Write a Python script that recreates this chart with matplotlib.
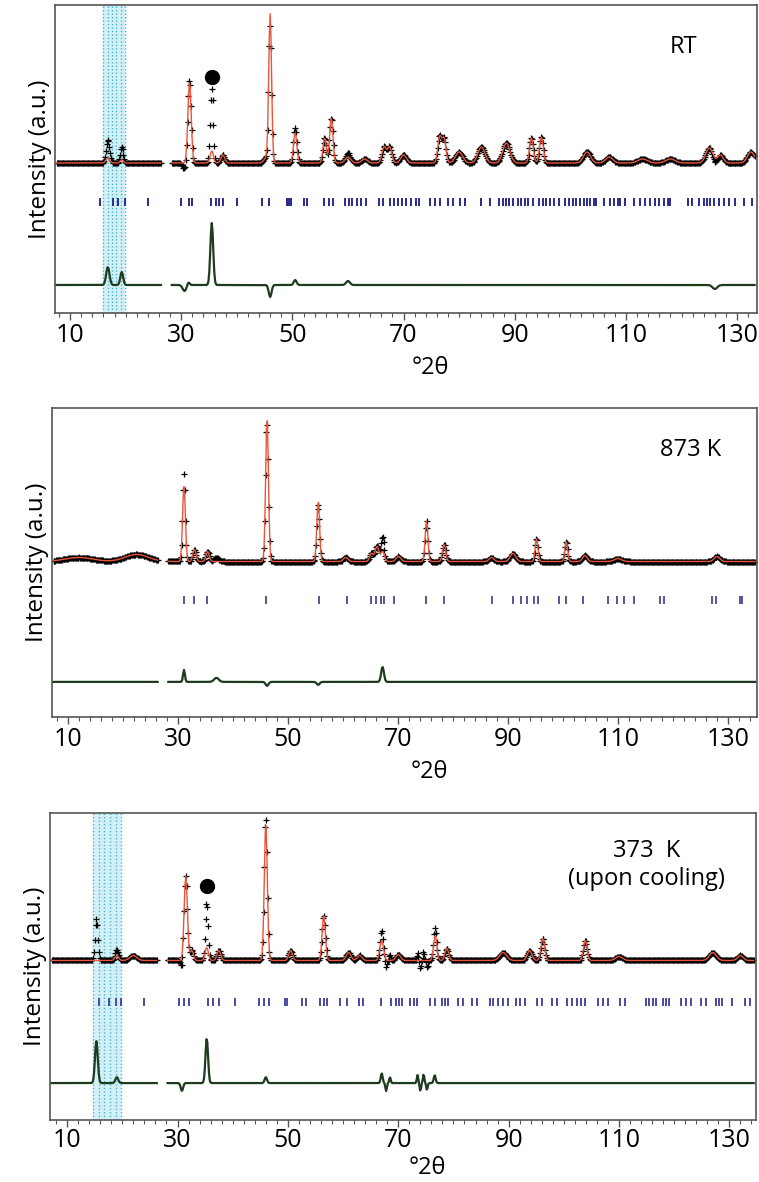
import numpy as np
import matplotlib
matplotlib.use("Agg")
import matplotlib.pyplot as plt
from matplotlib.ticker import MultipleLocator, FixedLocator

plt.rcParams['font.family'] = ['Open Sans', 'DejaVu Sans']

# ---- panel 1 : RT
rt_base = 150
rt_calc_pos = [16.8, 19.3, 31.5, 35.5, 37.5, 45.3, 46.0, 50.5, 55.8, 57.0, 60.0, 63.0,
               66.5, 67.5, 70.0, 76.5, 77.3, 80.0, 84.0, 88.5, 93.0, 94.8, 103.0, 107.0,
               113.0, 118.0, 125.0, 127.0, 132.5]
rt_calc_h = [5, 3, 81, 12, 8, 5, 148, 30, 25, 45, 6, 4,
             16, 16, 8, 26, 24, 11, 16, 20, 25, 26, 11, 6,
             4, 4, 15, 8, 11]
rt_calc_w = [0.8, 0.7, 0.7, 0.7, 0.8, 1.0, 0.6, 0.7, 0.7, 0.7, 1.2, 1.2,
             0.9, 0.9, 1.2, 0.8, 0.8, 1.5, 1.5, 1.5, 0.8, 0.8, 1.5, 1.5,
             2.0, 2.0, 1.5, 1.2, 1.5]
rt_mis_pos = [16.8, 19.3, 30.6, 31.3, 35.5, 46.0, 50.5, 60.0, 126.0]
rt_mis_h = [18, 13, -6, 3, 62, -12, 5, 4, -4]
rt_mis_w = [0.7, 0.6, 0.8, 0.5, 0.6, 0.6, 0.6, 0.8, 1.0]
rt_ticks = [15.4, 17.7, 18.6, 19.8, 24.0, 29.9, 31.4, 32.0, 35.3, 36.2, 36.8, 37.5, 40.1,
            44.6, 45.8, 49.1, 49.4, 49.8, 52.1, 52.7, 55.6, 56.5, 57.3, 59.5, 60.2, 60.8,
            61.6, 62.4, 63.2, 65.5, 66.3, 67.6, 68.2, 69.0, 69.8, 70.5, 71.3, 72.2, 72.7,
            74.8, 75.7, 76.6, 78.0, 78.9, 80.1, 81.0, 84.0, 85.5, 87.2, 87.8, 88.4, 89.0,
            89.6, 90.5, 91.1, 91.8, 92.3, 93.2, 94.4, 95.0, 95.6, 96.3, 97.0, 97.9, 99.1,
            99.8, 100.5, 101.1, 101.7, 102.4, 103.0, 103.6, 104.3, 104.7, 106.0, 107.2,
            107.8, 108.5, 109.0, 109.9, 111.4, 112.6, 113.5, 114.4, 115.2, 116.0, 116.8,
            117.5, 118.0, 121.1, 121.9, 123.1, 124.0, 124.6, 125.2, 125.8, 126.7, 127.6,
            128.5, 129.7, 131.2, 132.7]

# ---- panel 2 : 873 K
ht_base = 155
ht_calc_pos = [12.0, 22.5, 31.1, 33.0, 35.4, 46.2, 55.5, 60.5, 65.2, 66.2, 67.2, 70.1,
               75.2, 78.4, 87.0, 90.9, 95.2, 100.6, 104.0, 110.0, 128.0]
ht_calc_h = [4, 7, 75, 12, 10, 143, 60, 4, 8, 15, 10, 5,
             40, 17, 4, 8, 23, 20, 6, 3, 5]
ht_calc_w = [6.0, 5.0, 0.6, 0.7, 0.7, 0.6, 0.6, 1.0, 0.8, 0.8, 0.8, 1.0,
             0.6, 0.7, 1.0, 1.2, 0.6, 0.6, 1.0, 1.5, 1.2]
ht_mis_pos = [31.1, 37.0, 46.2, 55.5, 67.2]
ht_mis_h = [12, 4, -4, -3, 15]
ht_mis_w = [0.4, 1.0, 0.6, 0.6, 0.6]
ht_ticks = [31.1, 32.9, 35.2, 46.1, 55.7, 60.7, 65.1, 66.0, 67.0, 67.5, 69.3, 75.1, 78.3,
            87.1, 90.9, 92.4, 93.5, 94.8, 95.5, 99.3, 100.5, 103.7, 108.1, 109.9, 111.1,
            112.9, 117.7, 118.3, 127.1, 127.9, 132.2, 132.6]

# ---- panel 3 : 373 K upon cooling
cl_base = 160
cl_calc_pos = [19.0, 22.0, 31.5, 32.6, 35.3, 37.5, 46.0, 50.5, 56.5, 61.0, 63.0, 67.0,
               70.0, 76.7, 78.8, 89.0, 93.8, 96.2, 103.9, 110.0, 127.0, 132.0]
cl_calc_h = [5, 5, 85, 10, 13, 10, 137, 10, 45, 8, 5, 20,
             6, 25, 12, 8, 10, 22, 20, 4, 8, 5]
cl_calc_w = [0.8, 1.5, 0.7, 0.7, 0.7, 0.8, 0.65, 0.8, 0.7, 1.0, 1.0, 0.8,
             1.0, 0.7, 0.8, 1.5, 1.0, 0.8, 0.8, 1.5, 1.5, 1.2]
cl_mis_pos = [15.3, 19.0, 30.8, 35.3, 46.0, 67.0, 67.8, 68.5, 73.5, 74.0, 74.6, 75.2, 76.6]
cl_mis_h = [42, 6, -8, 45, 6, 10, -8, 6, 8, -8, 9, -7, 8]
cl_mis_w = [0.6, 0.6, 0.5, 0.55, 0.5, 0.4, 0.3, 0.3, 0.3, 0.3, 0.3, 0.3, 0.4]
cl_ticks = [15.7, 17.5, 18.8, 19.7, 24.0, 30.2, 31.1, 32.0, 35.6, 36.5, 37.5, 40.5, 44.7,
            45.6, 46.5, 49.5, 49.9, 52.5, 53.3, 55.9, 56.5, 57.1, 59.5, 60.7, 62.8, 63.7,
            66.8, 68.6, 69.5, 70.1, 70.7, 72.2, 72.8, 73.4, 75.8, 76.7, 77.9, 78.5, 79.1,
            80.9, 81.8, 83.3, 84.2, 86.6, 87.2, 88.1, 89.0, 89.9, 91.4, 92.0, 92.9, 95.1,
            96.0, 97.8, 98.7, 100.5, 101.4, 102.3, 103.2, 103.8, 106.2, 107.1, 108.0,
            110.1, 111.0, 114.9, 115.5, 116.1, 116.7, 117.9, 118.5, 119.1, 121.2, 122.1,
            123.0, 124.8, 125.7, 127.5, 128.1, 128.7, 130.5, 132.9, 133.8]


def peaks(x, pos, h, w):
    y = np.zeros_like(x)
    for p, a, fw in zip(pos, h, w):
        y += a * np.exp(-4 * np.log(2) * (x - p) ** 2 / fw ** 2)
    return y


def panel(ax, xlim, base, cpos, ch, cw, mpos, mh, mw, ticks, tick_y, diff_y,
          tick_col, label, label_xy, band=None, dot=None, xlab_y=-0.14, pad=2):
    x = np.arange(xlim[0] + 0.3, xlim[1] - 0.3, 0.15)
    gap = (x > 26.4) & (x < 28.2)
    calc = base + peaks(x, cpos, ch, cw)
    mis = peaks(x, mpos, mh, mw)
    obs = calc + mis
    calc[gap] = np.nan
    obs[gap] = np.nan
    diff = diff_y + mis
    diff[gap] = np.nan

    if band:
        ax.axvspan(band[0], band[1], facecolor='#d3f0f6', edgecolor='none', zorder=0)
        ax.vlines(np.linspace(band[0], band[1], 6), 0, 308, color='#45b6cf',
                  lw=1.0, ls=(0, (1, 1.5)), zorder=0.5)
    ax.plot(x, obs, '+', color='black', ms=5, mew=0.9, zorder=2)
    ax.plot(x, calc, color='#e8553a', lw=1.0, zorder=3)
    ax.plot(x, diff, color='#1e3b1e', lw=1.6, zorder=3)
    ax.vlines(ticks, tick_y - 4, tick_y + 4, color=tick_col, lw=1.4, zorder=3)
    if dot:
        ax.plot([dot[0]], [dot[1]], 'o', color='black', ms=10, zorder=4)

    ax.set_xlim(*xlim)
    ax.set_ylim(0, 308)
    ax.set_yticks([])
    ax.xaxis.set_major_locator(FixedLocator(np.arange(10, 140, 20)))
    ax.xaxis.set_minor_locator(MultipleLocator(2))
    ax.tick_params(axis='x', which='major', length=5, width=1, color='#555555',
                   labelsize=18, pad=pad, direction='out')
    ax.tick_params(axis='x', which='minor', length=3, width=0.8, color='#555555',
                   direction='out')
    for s in ax.spines.values():
        s.set_color('#555555')
        s.set_linewidth(1.2)
    ax.set_ylabel('Intensity (a.u.)', fontsize=17.5, labelpad=2)
    ax.set_xlabel('°2θ', fontsize=17)
    ax.xaxis.set_label_coords(0.535, xlab_y)
    ax.text(label_xy[0], label_xy[1], label, transform=ax.transAxes, fontsize=17,
            ha='center', va='center', linespacing=1.2)


fig = plt.figure(figsize=(7.59, 11.82), dpi=100)
ax1 = fig.add_axes([0.0725, 0.7352, 0.9250, 0.2606])
ax2 = fig.add_axes([0.0685, 0.3934, 0.9290, 0.2614])
ax3 = fig.add_axes([0.0659, 0.0525, 0.9300, 0.2597])

panel(ax1, (7.3, 133.6), rt_base, rt_calc_pos, rt_calc_h, rt_calc_w,
      rt_mis_pos, rt_mis_h, rt_mis_w, rt_ticks, 111, 28, '#2a2a8a', 'RT',
      (0.895, 0.865), band=(16.0, 19.9), dot=(35.5, 236))
panel(ax2, (7.1, 135.3), ht_base, ht_calc_pos, ht_calc_h, ht_calc_w,
      ht_mis_pos, ht_mis_h, ht_mis_w, ht_ticks, 117, 35, '#55559a', '873 K',
      (0.905, 0.865))
panel(ax3, (6.9, 134.8), cl_base, cl_calc_pos, cl_calc_h, cl_calc_w,
      cl_mis_pos, cl_mis_h, cl_mis_w, cl_ticks, 118, 37, '#4a4aa0',
      '373  K\n(upon cooling)', (0.845, 0.83), band=(14.7, 19.8), dot=(35.3, 235),
      xlab_y=-0.118, pad=0.5)

fig.savefig('out.png', dpi=100)
